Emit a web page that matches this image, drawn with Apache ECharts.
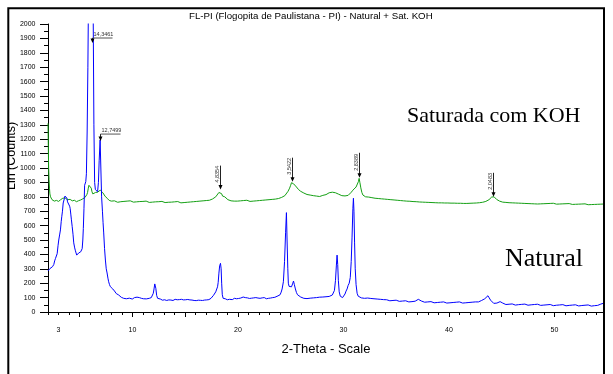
<!DOCTYPE html>
<html>
<head>
<meta charset="utf-8">
<script src="https://cdn.jsdelivr.net/npm/echarts@6/dist/echarts.min.js"></script>
<style>html,body{margin:0;padding:0;background:#fff}#c{width:613px;height:374px}</style>
</head>
<body>
<div id="c"></div>
<script>
// ---- data (2-theta degrees, counts) ----
const natural = [
[2.00,285],[2.08,290],[2.16,300],[2.24,296],[2.32,310],[2.43,315],[2.55,330],[2.63,355],[2.71,372],[2.79,385],[2.87,405],[2.95,460],[3.02,500],[3.10,535],[3.18,570],[3.25,627],[3.31,665],[3.37,700],[3.44,757],[3.51,770],[3.56,790],[3.61,805],[3.66,800],[3.72,812],[3.80,790],[3.85,765],[3.89,760],[3.94,775],[3.99,770],[4.05,735],[4.10,720],[4.16,680],[4.22,640],[4.29,595],[4.37,540],[4.44,480],[4.53,445],[4.60,425],[4.66,410],[4.72,395],[4.78,405],[4.84,392],[4.91,410],[4.97,400],[5.03,398],[5.10,418],[5.17,410],[5.24,440],[5.30,500],[5.35,580],[5.41,720],[5.47,880],[5.52,885],[5.58,905],[5.64,960],[5.71,1250],[5.78,1700],[5.85,2300],[5.97,3500],[6.07,4200],[6.13,4400],[6.20,3200],[6.28,2100],[6.35,1300],[6.42,900],[6.49,850],[6.56,862],[6.63,845],[6.70,835],[6.78,900],[6.85,1050],[6.94,1195],[7.01,1000],[7.08,800],[7.16,700],[7.22,620],[7.28,549],[7.36,440],[7.44,361],[7.52,300],[7.60,271],[7.68,235],[7.75,210],[7.83,190],[7.91,176],[7.98,172],[8.05,165],[8.14,160],[8.22,153],[8.30,146],[8.39,140],[8.47,128],[8.55,130],[8.63,122],[8.70,118],[8.78,110],[8.86,106],[8.95,102],[9.05,100],[9.17,95],[9.30,98],[9.43,92],[9.56,90],[9.71,96],[9.85,93],[9.99,90],[10.10,94],[10.20,100],[10.32,98],[10.44,103],[10.56,101],[10.66,100],[10.76,97],[10.85,95],[10.95,90],[11.04,92],[11.14,88],[11.22,87],[11.32,91],[11.41,90],[11.50,88],[11.60,95],[11.70,97],[11.79,100],[11.90,110],[11.98,130],[12.05,160],[12.12,195],[12.17,200],[12.22,165],[12.30,115],[12.39,95],[12.48,84],[12.55,85],[12.65,90],[12.74,88],[12.85,82],[12.95,90],[13.05,85],[13.15,88],[13.25,80],[13.35,86],[13.45,84],[13.55,90],[13.65,83],[13.75,86],[13.85,80],[13.95,84],[14.05,88],[14.15,82],[14.25,85],[14.35,79],[14.45,86],[14.55,83],[14.65,88],[14.75,81],[14.85,84],[14.95,78],[15.05,85],[15.15,82],[15.25,87],[15.35,80],[15.45,84],[15.55,78],[15.65,83],[15.75,86],[15.85,80],[15.95,84],[16.05,79],[16.15,85],[16.25,82],[16.35,88],[16.45,81],[16.55,84],[16.65,80],[16.75,86],[16.85,83],[16.95,87],[17.05,84],[17.15,88],[17.25,86],[17.35,92],[17.45,95],[17.55,105],[17.69,116],[17.80,125],[17.90,140],[18.00,153],[18.07,175],[18.13,205],[18.20,270],[18.27,320],[18.35,338],[18.41,300],[18.46,200],[18.52,120],[18.60,95],[18.70,88],[18.80,92],[18.89,90],[19.00,85],[19.10,80],[19.20,88],[19.27,100],[19.37,92],[19.47,86],[19.57,90],[19.67,95],[19.77,88],[19.87,92],[19.97,85],[20.07,94],[20.17,90],[20.27,97],[20.37,92],[20.50,104],[20.60,95],[20.70,100],[20.80,92],[20.90,98],[21.00,102],[21.10,94],[21.20,100],[21.30,96],[21.40,90],[21.50,98],[21.60,94],[21.70,100],[21.80,92],[21.90,97],[22.00,104],[22.10,95],[22.20,90],[22.30,98],[22.40,94],[22.50,100],[22.60,96],[22.70,92],[22.80,99],[22.90,95],[23.00,100],[23.10,97],[23.20,104],[23.30,100],[23.40,106],[23.50,102],[23.60,108],[23.68,110],[23.80,112],[23.90,115],[24.00,120],[24.10,138],[24.19,160],[24.31,210],[24.42,350],[24.52,550],[24.60,690],[24.66,500],[24.73,300],[24.78,200],[24.85,178],[24.92,180],[25.00,170],[25.08,175],[25.18,195],[25.27,215],[25.35,190],[25.45,160],[25.55,135],[25.65,120],[25.80,110],[25.95,104],[26.10,100],[26.25,95],[26.40,98],[26.55,93],[26.70,100],[26.85,96],[27.00,102],[27.15,98],[27.30,95],[27.45,100],[27.60,97],[27.75,103],[27.90,99],[28.05,104],[28.20,100],[28.35,106],[28.50,102],[28.65,108],[28.80,112],[28.95,118],[29.05,125],[29.15,150],[29.25,220],[29.33,320],[29.40,395],[29.46,330],[29.52,220],[29.60,140],[29.70,110],[29.80,103],[29.92,100],[30.05,110],[30.15,125],[30.25,145],[30.35,160],[30.45,185],[30.55,200],[30.65,240],[30.74,350],[30.82,520],[30.90,720],[30.95,790],[31.00,700],[31.06,480],[31.12,300],[31.20,190],[31.30,130],[31.40,110],[31.55,104],[31.70,98],[31.85,100],[32.00,95],[32.15,92],[32.30,97],[32.45,90],[32.60,94],[32.75,88],[32.90,92],[33.05,86],[33.20,90],[33.35,84],[33.50,88],[33.65,82],[33.80,86],[33.95,80],[34.10,85],[34.25,83],[34.40,78],[34.55,84],[34.70,80],[34.85,76],[35.00,82],[35.15,78],[35.30,74],[35.45,80],[35.60,76],[35.75,72],[35.90,78],[36.05,74],[36.20,70],[36.35,76],[36.50,72],[36.65,78],[36.80,75],[36.95,82],[37.10,88],[37.25,84],[37.40,76],[37.55,72],[37.70,68],[37.85,74],[38.00,70],[38.15,66],[38.30,72],[38.45,68],[38.60,64],[38.75,70],[38.90,66],[39.05,72],[39.20,68],[39.35,64],[39.50,70],[39.65,66],[39.80,62],[39.95,68],[40.10,64],[40.25,70],[40.40,66],[40.55,62],[40.70,68],[40.85,64],[41.00,70],[41.15,66],[41.30,62],[41.45,68],[41.60,64],[41.75,70],[41.90,66],[42.05,72],[42.20,68],[42.35,64],[42.50,70],[42.65,74],[42.80,70],[42.95,76],[43.10,80],[43.25,84],[43.40,92],[43.55,100],[43.70,113],[43.82,98],[43.95,82],[44.10,70],[44.25,60],[44.40,55],[44.55,62],[44.70,66],[44.85,72],[44.97,76],[45.10,62],[45.25,55],[45.40,52],[45.55,58],[45.70,54],[45.85,50],[46.00,56],[46.15,52],[46.30,48],[46.45,55],[46.60,51],[46.75,57],[46.90,53],[47.05,49],[47.20,55],[47.35,51],[47.50,47],[47.65,54],[47.80,50],[47.95,56],[48.10,52],[48.25,48],[48.40,54],[48.55,50],[48.70,46],[48.85,52],[49.00,48],[49.15,54],[49.30,50],[49.45,46],[49.60,52],[49.75,48],[49.90,44],[50.05,50],[50.20,47],[50.35,53],[50.50,49],[50.65,45],[50.80,51],[50.95,47],[51.10,43],[51.25,49],[51.40,46],[51.55,52],[51.70,48],[51.85,44],[52.00,50],[52.15,46],[52.30,42],[52.45,48],[52.60,45],[52.75,51],[52.90,47],[53.05,43],[53.20,49],[53.35,45],[53.50,41],[53.65,47],[53.80,44],[53.95,50],[54.10,46],[54.25,52],[54.40,55],[54.55,60],[54.70,62]
];
const saturadaKOH = [
[2.00,1310],[2.03,1150],[2.06,1000],[2.10,920],[2.14,860],[2.18,820],[2.24,800],[2.30,790],[2.38,780],[2.45,778],[2.53,772],[2.60,770],[2.70,766],[2.80,775],[2.90,770],[3.00,768],[3.10,774],[3.20,780],[3.30,785],[3.40,790],[3.48,796],[3.55,800],[3.62,792],[3.70,795],[3.78,785],[3.85,780],[3.92,786],[4.00,790],[4.10,782],[4.20,775],[4.30,772],[4.40,770],[4.50,776],[4.60,772],[4.70,766],[4.80,768],[4.90,773],[5.00,775],[5.10,778],[5.20,780],[5.30,786],[5.40,790],[5.50,795],[5.60,800],[5.68,815],[5.75,830],[5.82,860],[5.88,880],[5.95,893],[6.02,885],[6.10,860],[6.17,835],[6.25,820],[6.32,818],[6.40,825],[6.50,830],[6.60,835],[6.70,832],[6.80,842],[6.88,845],[6.95,846],[7.02,840],[7.10,835],[7.20,828],[7.30,820],[7.40,805],[7.50,795],[7.60,790],[7.70,780],[7.80,775],[7.90,772],[8.00,770],[8.15,765],[8.30,772],[8.45,768],[8.60,762],[8.75,770],[8.90,766],[9.05,772],[9.20,768],[9.35,763],[9.50,770],[9.65,766],[9.80,772],[9.95,767],[10.10,763],[10.25,769],[10.40,765],[10.55,771],[10.70,767],[10.85,762],[11.00,768],[11.15,764],[11.30,770],[11.45,766],[11.60,761],[11.75,767],[11.90,763],[12.05,769],[12.20,765],[12.35,760],[12.50,766],[12.65,762],[12.80,768],[12.95,764],[13.10,760],[13.25,766],[13.40,762],[13.55,768],[13.70,763],[13.85,759],[14.00,765],[14.15,761],[14.30,767],[14.45,763],[14.60,758],[14.75,764],[14.90,760],[15.05,766],[15.20,762],[15.35,768],[15.50,764],[15.65,760],[15.80,766],[15.95,762],[16.10,768],[16.25,764],[16.40,770],[16.55,766],[16.70,772],[16.85,768],[17.00,774],[17.15,770],[17.30,776],[17.45,780],[17.60,785],[17.75,790],[17.90,800],[18.05,812],[18.20,830],[18.33,842],[18.45,822],[18.55,805],[18.65,810],[18.75,800],[18.90,788],[19.05,780],[19.20,775],[19.35,772],[19.50,776],[19.65,770],[19.80,774],[19.95,770],[20.10,776],[20.25,772],[20.40,768],[20.55,774],[20.70,770],[20.85,776],[21.00,772],[21.15,768],[21.30,774],[21.45,770],[21.60,776],[21.75,772],[21.90,778],[22.05,774],[22.20,770],[22.35,776],[22.50,772],[22.65,778],[22.80,775],[22.95,780],[23.10,776],[23.25,782],[23.40,786],[23.55,784],[23.70,790],[23.85,788],[24.00,792],[24.15,796],[24.30,800],[24.45,808],[24.60,820],[24.75,838],[24.90,860],[25.00,880],[25.08,898],[25.12,905],[25.20,898],[25.28,890],[25.36,894],[25.45,880],[25.55,868],[25.65,855],[25.75,850],[25.85,845],[25.95,838],[26.10,830],[26.25,826],[26.40,822],[26.55,816],[26.70,818],[26.85,812],[27.00,814],[27.15,808],[27.30,810],[27.45,805],[27.60,808],[27.75,802],[27.90,806],[28.05,810],[28.20,808],[28.35,815],[28.50,822],[28.65,828],[28.80,835],[28.95,832],[29.10,836],[29.25,828],[29.40,824],[29.55,818],[29.70,812],[29.85,808],[30.00,802],[30.15,806],[30.30,804],[30.45,810],[30.60,822],[30.75,832],[30.90,846],[31.05,850],[31.20,868],[31.32,880],[31.42,905],[31.49,928],[31.56,900],[31.65,862],[31.75,830],[31.85,812],[31.95,804],[32.10,800],[32.25,796],[32.40,798],[32.55,792],[32.70,794],[32.85,788],[33.00,790],[33.15,785],[33.30,788],[33.45,783],[33.60,786],[33.75,781],[33.90,784],[34.05,779],[34.20,782],[34.35,777],[34.50,780],[34.65,775],[34.80,778],[34.95,773],[35.10,776],[35.25,771],[35.40,774],[35.55,769],[35.70,772],[35.85,767],[36.00,770],[36.15,766],[36.30,769],[36.45,764],[36.60,767],[36.75,762],[36.90,766],[37.05,761],[37.20,764],[37.35,760],[37.50,763],[37.65,758],[37.80,762],[37.95,757],[38.10,761],[38.25,756],[38.40,760],[38.55,755],[38.70,759],[38.85,755],[39.00,758],[39.15,754],[39.30,758],[39.45,754],[39.60,757],[39.75,753],[39.90,757],[40.05,753],[40.20,756],[40.35,752],[40.50,756],[40.65,752],[40.80,755],[40.95,751],[41.10,755],[41.25,751],[41.40,754],[41.55,750],[41.70,754],[41.85,751],[42.00,755],[42.15,752],[42.30,756],[42.45,753],[42.60,757],[42.75,755],[42.90,759],[43.05,757],[43.20,762],[43.35,765],[43.50,768],[43.65,772],[43.80,780],[43.95,790],[44.05,798],[44.18,806],[44.28,800],[44.40,790],[44.52,782],[44.65,775],[44.80,770],[44.95,766],[45.10,763],[45.25,766],[45.40,761],[45.55,764],[45.70,759],[45.85,762],[46.00,758],[46.15,761],[46.30,757],[46.45,760],[46.60,756],[46.75,759],[46.90,755],[47.05,758],[47.20,754],[47.35,757],[47.50,753],[47.65,756],[47.80,752],[47.95,755],[48.10,751],[48.25,754],[48.40,750],[48.55,754],[48.70,751],[48.85,755],[49.00,752],[49.15,756],[49.30,753],[49.45,750],[49.60,754],[49.75,751],[49.90,755],[50.05,752],[50.20,749],[50.35,753],[50.50,750],[50.65,754],[50.80,751],[50.95,748],[51.10,752],[51.25,749],[51.40,753],[51.55,750],[51.70,747],[51.85,751],[52.00,748],[52.15,752],[52.30,749],[52.45,746],[52.60,750],[52.75,747],[52.90,751],[53.05,748],[53.20,745],[53.35,749],[53.50,746],[53.65,750],[53.80,747],[53.95,751],[54.10,748],[54.25,752],[54.40,749],[54.55,752],[54.70,750]
];
// peak annotations (d-spacings, Å)
const peakTheta = [6.16, 6.93, 18.33, 25.12, 31.49, 44.18];
const peakTip   = [1868, 1187, 850, 905, 932, 800];
const peakLabels = ['14,3461', '12,7499', '4,8354', '3,5422', '2,8389', '2,0483'];
// axis tick labels
const xLabelValues = [3, 10, 20, 30, 40, 50];
const xMajorTicks = [5, 10, 15, 20, 25, 30, 35, 40, 45, 50];

// ---- styling config ----
const annotStyle = ['flag', 'flag', 'vertical', 'vertical', 'vertical', 'vertical'];
const annotLen = [5, 7, 24, 24, 25, 24];

const chart = echarts.init(document.getElementById('c'), null, {renderer: 'canvas'});
const axisFont = 'Arial, "Liberation Sans", sans-serif';
const serifFont = '"Times New Roman", "Liberation Serif", serif';

chart.setOption({
  animation: false,
  backgroundColor: '#fff',
  title: {
    text: 'FL-PI (Flogopita de Paulistana - PI) - Natural + Sat. KOH',
    left: 189, top: 11, padding: 0,
    textStyle: {fontSize: 9.7, fontWeight: 'normal', color: '#000', fontFamily: axisFont}
  },
  grid: {left: 48, top: 24, right: 9, bottom: 62, containLabel: false},
  xAxis: [{
    type: 'value', min: 2, max: 54.7, interval: 1,
    name: '2-Theta - Scale', nameLocation: 'middle', nameGap: 30.5,
    nameTextStyle: {fontSize: 13, color: '#000', fontFamily: axisFont},
    axisLine: {show: true, lineStyle: {color: '#000', width: 1}},
    axisTick: {show: true, length: 5, customValues: xMajorTicks, lineStyle: {color: '#000'}},
    axisLabel: {show: true, customValues: xLabelValues, fontSize: 7, color: '#000', margin: 15, fontFamily: axisFont,
      formatter: v => String(v)},
    splitLine: {show: false}
  }, {
    type: 'value', min: 2, max: 54.7, interval: 1, position: 'bottom', offset: 0,
    axisLine: {show: false},
    axisTick: {show: true, length: 3, lineStyle: {color: '#000'}},
    axisLabel: {show: false},
    splitLine: {show: false}
  }],
  yAxis: {
    type: 'value', min: 0, max: 2000, interval: 100,
    axisLine: {show: true, lineStyle: {color: '#000', width: 1}},
    axisTick: {show: true, length: 8, lineStyle: {color: '#000'}},
    minorTick: {show: true, splitNumber: 2, length: 4, lineStyle: {color: '#000'}},
    axisLabel: {fontSize: 7, color: '#000', margin: 12.5, fontFamily: axisFont, formatter: v => String(v)},
    splitLine: {show: false}
  },
  series: [{
    name: 'Natural', type: 'line', data: natural, showSymbol: false, symbol: 'none',
    lineStyle: {color: '#0000ff', width: 1}, itemStyle: {color: '#0000ff'}, z: 3
  }, {
    name: 'Saturada com KOH', type: 'line', data: saturadaKOH, showSymbol: false, symbol: 'none',
    lineStyle: {color: '#14a014', width: 1}, itemStyle: {color: '#14a014'}, z: 2
  }, {
    type: 'custom', coordinateSystem: 'cartesian2d', z: 5,
    data: peakTheta.map((t, i) => [t, peakTip[i], i]),
    renderItem: function (params, api) {
      const i = api.value(2);
      const p = api.coord([api.value(0), api.value(1)]);
      const x = Math.round(p[0]) + 0.5, y = p[1];
      const top = y - annotLen[i];
      const children = [
        {type: 'line', shape: {x1: x, y1: top, x2: x, y2: y - 3}, style: {stroke: '#222', lineWidth: 1}},
        {type: 'polygon', shape: {points: [[x, y], [x - 2, y - 4.5], [x + 2, y - 4.5]]}, style: {fill: '#000'}}
      ];
      if (annotStyle[i] === 'flag') {
        children.push({type: 'line', shape: {x1: x, y1: top, x2: x + 20, y2: top}, style: {stroke: '#555', lineWidth: 1}});
        children.push({type: 'text', x: x + 1, y: top - 0.5,
          style: {text: peakLabels[i], fontSize: 5.5, fill: '#333', align: 'left', verticalAlign: 'bottom', fontFamily: axisFont}});
      } else {
        children.push({type: 'text', x: x - 0.5, y: y - 7, rotation: Math.PI / 2,
          style: {text: peakLabels[i], fontSize: 5.5, fill: '#333', align: 'left', verticalAlign: 'bottom', fontFamily: axisFont}});
      }
      return {type: 'group', children: children};
    }
  }],
  graphic: [
    {type: 'text', x: 12, y: 156, rotation: Math.PI / 2, z: 10,
      style: {text: 'Lin (Counts)', fontSize: 12.5, fill: '#000', align: 'center', verticalAlign: 'middle', fontFamily: axisFont}},
    {type: 'rect', shape: {x: 0, y: 0, width: 8.3, height: 374}, style: {fill: '#fff'}, z: 11},
    {type: 'rect', shape: {x: 8.3, y: 8.3, width: 595.7, height: 420}, style: {fill: 'none', stroke: '#000', lineWidth: 2}, z: 12},
    {type: 'text', x: 407, y: 116, z: 10,
      style: {text: 'Saturada com KOH', fontSize: 22, fill: '#000', align: 'left', verticalAlign: 'middle', fontFamily: serifFont}},
    {type: 'text', x: 505, y: 259.5, z: 10,
      style: {text: 'Natural', fontSize: 26, fill: '#000', align: 'left', verticalAlign: 'middle', fontFamily: serifFont}}
  ]
});
</script>
</body>
</html>
